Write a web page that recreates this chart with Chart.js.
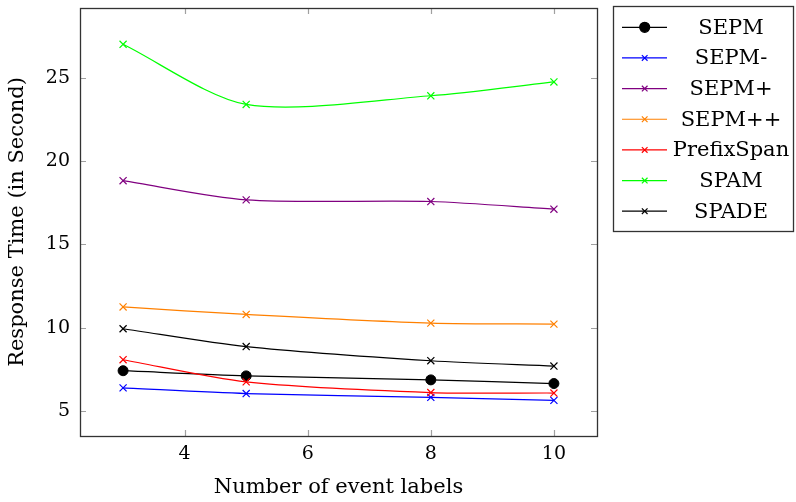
<!DOCTYPE html>
<html><head><meta charset="utf-8">
<script src="https://cdn.jsdelivr.net/npm/chart.js@4.4.0/dist/chart.umd.min.js"></script>
<style>html,body{margin:0;padding:0;background:#fff}#wrap{width:796px;height:502px}</style>
</head><body><div id="wrap"><canvas id="c" width="796" height="502"></canvas></div>
<script>
// ---- data ----
const xValues = [3, 5, 8, 10];
const seriesNames = ['SEPM', 'SEPM-', 'SEPM+', 'SEPM++', 'PrefixSpan', 'SPAM', 'SPADE'];
const sepm       = [7.42, 7.11, 6.87, 6.65];
const sepmMinus  = [6.39, 6.05, 5.82, 5.64];
const sepmPlus   = [18.83, 17.68, 17.58, 17.12];
const sepmPP     = [11.25, 10.80, 10.28, 10.22];
const prefixSpan = [8.08, 6.75, 6.11, 6.08];
const spam       = [27.02, 23.41, 23.93, 24.76];
const spade      = [9.94, 8.87, 8.02, 7.70];
const xTicks = [4, 6, 8, 10];
const yTicks = [5, 10, 15, 20, 25];
const xTitle = 'Number of event labels';
const yTitle = 'Response Time (in Second)';

// ---- styles ----
const FONT = "'DejaVu Serif', 'Liberation Serif', serif";
const FS = 19;      // tick labels
const FT = 21;      // titles and legend
const seriesValues = [sepm, sepmMinus, sepmPlus, sepmPP, prefixSpan, spam, spade];
const colors = ['#000000', '#0000ff', '#800080', '#ff8000', '#ff0000', '#00ff00', '#000000'];
const pointStyles = ['circle', 'crossRot', 'crossRot', 'crossRot', 'crossRot', 'crossRot', 'crossRot'];

const datasets = seriesNames.map((name, i) => ({
  label: name,
  data: xValues.map((x, j) => ({x: x, y: seriesValues[i][j]})),
  borderColor: colors[i],
  backgroundColor: colors[i],
  borderWidth: 1.2,
  pointStyle: pointStyles[i],
  pointRadius: 5,
  pointBorderWidth: i === 0 ? 1 : 1.2,
  pointBackgroundColor: colors[i],
  pointBorderColor: colors[i],
  tension: 0.28,
  fill: false,
  order: -i
}));

const framePlugin = {
  id: 'frame',
  beforeDatasetsDraw(chart) {
    const {ctx, chartArea: a, scales} = chart;
    ctx.save();
    ctx.strokeStyle = '#a0a0a0';
    ctx.lineWidth = 1.2;
    const L = 6;
    ctx.beginPath();
    xTicks.forEach(v => {
      const px = Math.round(scales.x.getPixelForValue(v)) + 0.5;
      ctx.moveTo(px, a.bottom); ctx.lineTo(px, a.bottom - L);
      ctx.moveTo(px, a.top); ctx.lineTo(px, a.top + L);
    });
    yTicks.forEach(v => {
      const py = Math.round(scales.y.getPixelForValue(v)) + 0.5;
      ctx.moveTo(a.left, py); ctx.lineTo(a.left + L, py);
      ctx.moveTo(a.right, py); ctx.lineTo(a.right - L, py);
    });
    ctx.stroke();
    ctx.restore();
  },
  afterDraw(chart) {
    const {ctx, chartArea: a} = chart;
    ctx.save();
    ctx.strokeStyle = '#333333';
    ctx.lineWidth = 1.3;
    ctx.strokeRect(Math.round(a.left) + 0.5, Math.round(a.top) + 0.5, Math.round(a.right - a.left), Math.round(a.bottom - a.top));
    // legend
    const bx = 613.5, by = 6.5, bw = 180, bh = 225;
    ctx.fillStyle = '#fff';
    ctx.fillRect(bx, by, bw, bh);
    ctx.strokeStyle = '#333333';
    ctx.strokeRect(bx, by, bw, bh);
    const rowY0 = 27.3, rowStep = 30.65;
    chart.data.datasets.forEach((ds, i) => {
      const y = rowY0 + i * rowStep;
      ctx.strokeStyle = ds.borderColor;
      ctx.lineWidth = 1.2;
      ctx.beginPath(); ctx.moveTo(622, y); ctx.lineTo(667, y); ctx.stroke();
      ctx.fillStyle = ds.backgroundColor;
      Chart.helpers.drawPoint(ctx, {pointStyle: ds.pointStyle, radius: i === 0 ? 5 : 4, rotation: 0, borderWidth: ds.pointBorderWidth}, 644.7, y);
      ctx.fillStyle = '#000';
      ctx.font = FT + 'px ' + FONT;
      ctx.textAlign = 'center';
      ctx.textBaseline = 'middle';
      ctx.fillText(ds.label, 731, y + 1);
    });
    ctx.restore();
  }
};

new Chart(document.getElementById('c'), {
  type: 'line',
  data: {datasets},
  options: {
    responsive: false,
    devicePixelRatio: 1,
    animation: false,
    layout: {padding: {left: 0, top: 8, right: 199, bottom: 0}},
    plugins: {legend: {display: false}, tooltip: {enabled: false}},
    scales: {
      x: {
        type: 'linear', min: 2.3, max: 10.7,
        afterBuildTicks: s => { s.ticks = xTicks.map(v => ({value: v})); },
        afterFit: s => { s.height = 66; s.paddingLeft = 0; s.paddingRight = 0; },
        grid: {display: false, drawTicks: false},
        border: {display: false},
        ticks: {color: '#000', font: {family: FONT, size: FS}, padding: 7},
        title: {display: true, text: xTitle, color: '#000', font: {family: FONT, size: FT}, padding: {top: 0, bottom: 2}}
      },
      y: {
        type: 'linear', min: 3.5, max: 29.2,
        afterBuildTicks: s => { s.ticks = yTicks.map(v => ({value: v})); },
        afterFit: s => { s.width = 80; s.paddingTop = 0; s.paddingBottom = 0; },
        grid: {display: false, drawTicks: false},
        border: {display: false},
        ticks: {color: '#000', font: {family: FONT, size: FS}, padding: 10},
        title: {display: true, text: yTitle, color: '#000', font: {family: FONT, size: FT}, padding: {top: 5, bottom: 0}}
      }
    }
  },
  plugins: [framePlugin]
});
</script>
</body></html>
